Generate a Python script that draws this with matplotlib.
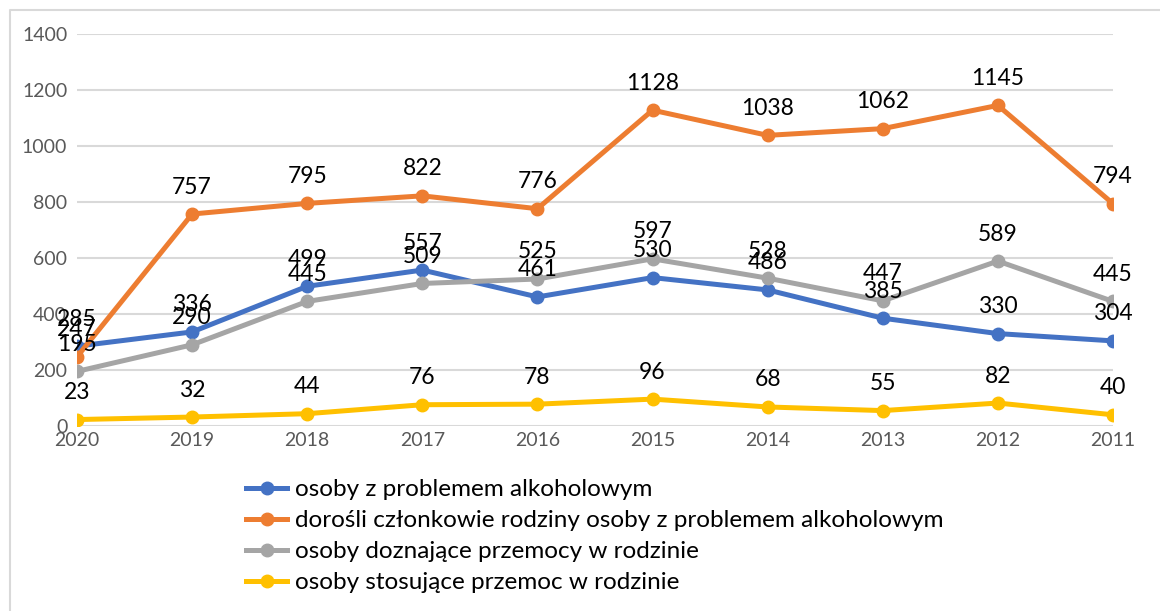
import numpy as np
import matplotlib.pyplot as plt
from matplotlib.lines import Line2D

plt.rcParams['font.family'] = ['Lato', 'DejaVu Sans']

years = ["2020", "2019", "2018", "2017", "2016", "2015", "2014", "2013", "2012", "2011"]
alkohol = [285, 336, 499, 557, 461, 530, 486, 385, 330, 304]
rodzina = [247, 757, 795, 822, 776, 1128, 1038, 1062, 1145, 794]
doznajace = [195, 290, 445, 509, 525, 597, 528, 447, 589, 445]
stosujace = [23, 32, 44, 76, 78, 96, 68, 55, 82, 40]

labels = ["osoby z problemem alkoholowym",
          "dorośli członkowie rodziny osoby z problemem alkoholowym",
          "osoby doznające przemocy w rodzinie",
          "osoby stosujące przemoc w rodzinie"]
colors = ["#4472C4", "#ED7D31", "#A5A5A5", "#FFC000"]
series = [alkohol, rodzina, doznajace, stosujace]

fig = plt.figure(figsize=(11.6, 6.11), dpi=100)
ax = fig.add_axes([77/1160, 1-426/611, (1113-77)/1160, (426-34)/611])

x = np.arange(len(years))
for vals, c, lab in zip(series, colors, labels):
    ax.plot(x, vals, color=c, lw=3.6, marker='o', ms=9, label=lab, zorder=3)
    for xi, v in zip(x, vals):
        ax.annotate(str(v), (xi, v), xytext=(0, 27), textcoords='offset pixels',
                    ha='center', va='center', fontsize=16.5, color='black', zorder=4)

ax.set_xlim(0, len(years)-1)
ax.set_ylim(0, 1400)
ax.set_yticks(range(0, 1401, 200))
ax.set_xticks(x)
ax.set_xticklabels(years)
ax.tick_params(length=0, labelsize=14, labelcolor='#595959')
ax.tick_params(axis='y', pad=7)
ax.tick_params(axis='x', pad=4)
ax.grid(axis='y', color='#D9D9D9', lw=1.5)
ax.set_axisbelow(True)
for s in ax.spines.values():
    s.set_visible(False)

handles = [Line2D([], [], color=c, lw=3.6, marker='o', ms=9) for c in colors]
fig.legend(handles, labels, loc='upper left', bbox_to_anchor=(234/1160, 1-467/611),
           frameon=False, fontsize=17.5, handlelength=1.7, labelspacing=0.41,
           handletextpad=0.3, borderpad=0)

# outer chart border
fig.add_artist(Line2D([10/1160, 10/1160, 1.0], [0, 1-10/611, 1-10/611],
                      transform=fig.transFigure, color='#D9D9D9', lw=1.5))

fig.savefig("out.png", dpi=100)
